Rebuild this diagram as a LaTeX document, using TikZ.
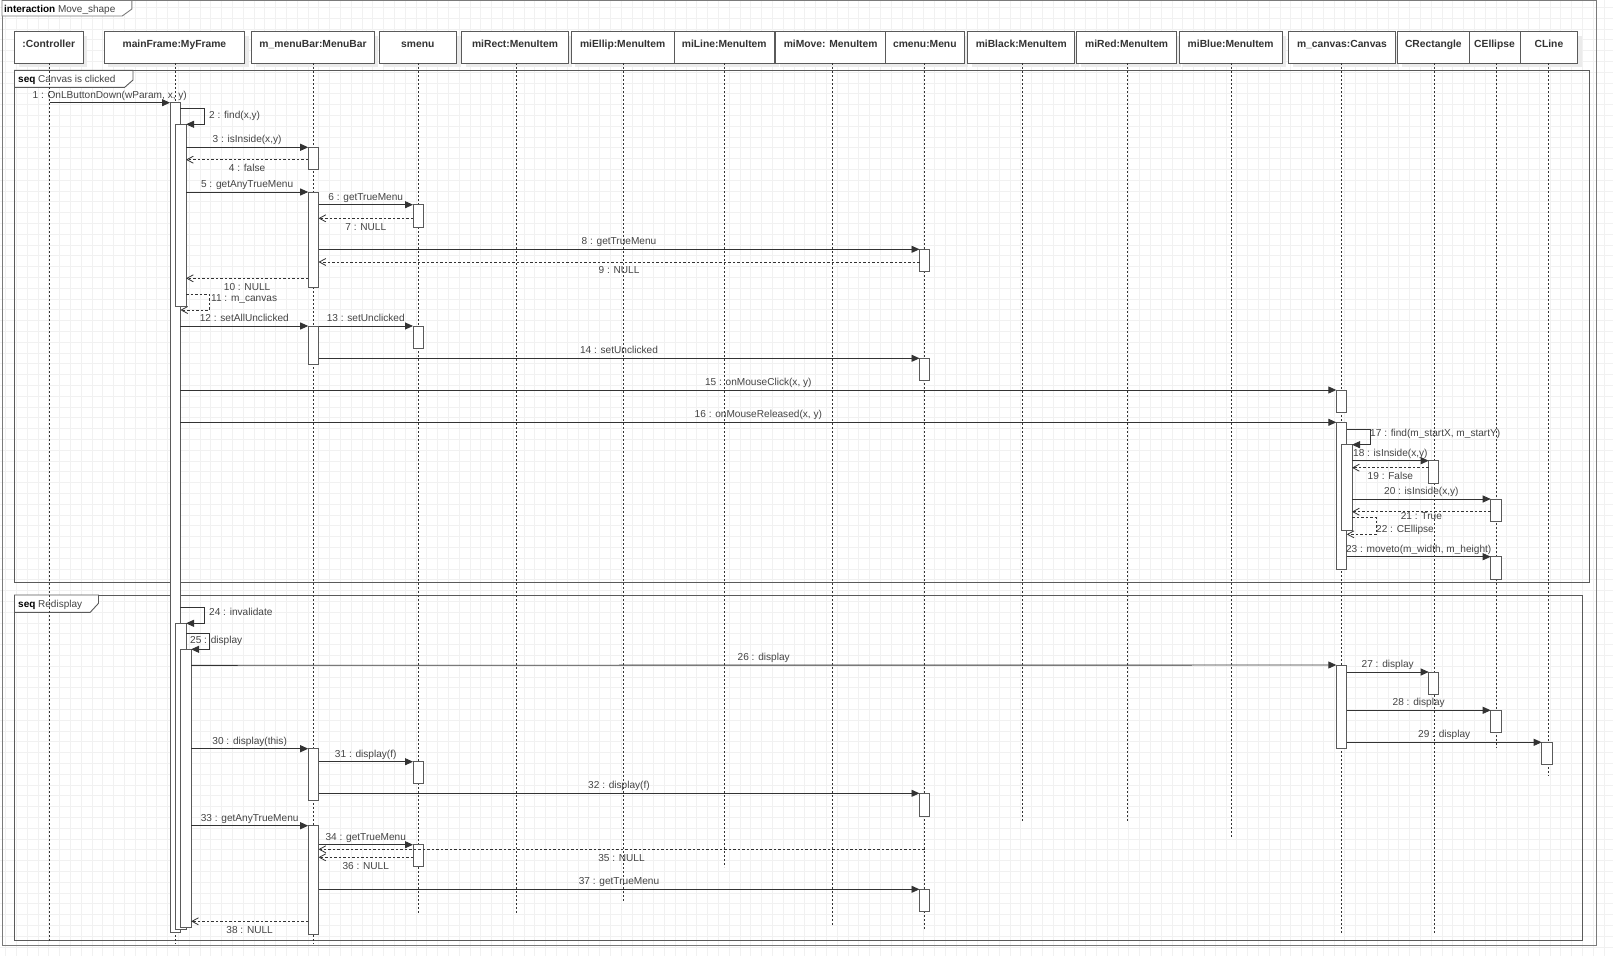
\documentclass[tikz,border=0pt]{standalone}
\usepackage{fontspec}
\setmainfont{Liberation Sans}
\usetikzlibrary{arrows.meta}

\definecolor{ink}{HTML}{333333}
\definecolor{txt}{HTML}{444444}
\definecolor{gridc}{HTML}{F1F1F1}
\definecolor{boxc}{HTML}{5A5A5A}
\definecolor{framec}{HTML}{7A7A7A}
\definecolor{shadec}{HTML}{EBEBEB}

% activation bar: name, left x, right x, top y, bottom y
\newcommand\actv[5]{%
  \node[actbar, anchor=north west, minimum width={(#3-#2)*1pt},
        minimum height={(#5-#4)*1pt}] (#1) at (#2,#4) {};}

% participant head: name, left x, right x, text, lifeline end y, lifeline x
\newcommand\headbox[6]{%
  \fill[shadec] ({#2+4},35.7) rectangle ({#3+4},67.3);
  \node[headrect, anchor=north west, minimum width={(#3-#2)*1pt},
        minimum height=31.6pt] (#1) at (#2,31.7) {};
  \node[headtxt] (#1-t) at ({(#2+#3)/2},47) {#4};
  \coordinate (#1-top) at (#6,63.3);
  \coordinate (#1-end) at (#6,#5);
  \draw[lifeline] (#1-top) -- (#1-end);}

\begin{document}
\begin{tikzpicture}[x=1pt,y=-1pt,
  gridline/.style={draw=gridc, line width=0.5pt},
  headrect/.style={draw=boxc, fill=white, line width=0.9pt, inner sep=0pt, outer sep=0pt},
  headtxt/.style={font=\fontsize{10.3}{12}\selectfont\bfseries, text=ink, anchor=base, inner sep=0pt},
  lifeline/.style={draw=ink, line width=0.8pt, dash pattern=on 2pt off 2pt},
  actbar/.style={draw=boxc, fill=white, line width=0.9pt, inner sep=0pt, outer sep=0pt},
  call/.style={draw=ink, line width=0.9pt, -{Triangle[length=8pt,width=7pt]}},
  ret/.style={draw=ink, line width=0.8pt, dash pattern=on 2.5pt off 2pt,
              -{Straight Barb[length=6.5pt,width=7pt,line width=0.8pt]}},
  lbl/.style={font=\fontsize{10.1}{11}\selectfont, text=txt, inner sep=0.5pt,
              text height=7pt, text depth=2pt},
  up/.style={lbl, midway, above=1.5pt},
  down/.style={lbl, midway, below=4pt},
  side/.style={lbl, anchor=west},
  outerframe/.style={draw=framec, line width=0.9pt},
  seqframe/.style={draw=boxc, line width=0.9pt},
  tabtxt/.style={font=\fontsize{10}{12}\selectfont, text=txt, inner sep=0pt, anchor=base west}]

\useasboundingbox (0,0) rectangle (1613,956);
\fill[white] (0,0) rectangle (1613,956);

% background grid
\foreach \i in {0,...,149}
  \draw[gridline] ({5.5+\i*10.8},0) -- ({5.5+\i*10.8},956);
\foreach \j in {0,...,88}
  \draw[gridline] (0,{7.3+\j*10.8}) -- (1613,{7.3+\j*10.8});

% interaction frame
\draw[outerframe] (2,0.5) rectangle (1596.5,945.7);
\draw[outerframe, fill=white] (2,0.5) -- (131.9,0.5) -- (131.9,9) -- (122.2,16) -- (2,16) -- cycle;
\node[tabtxt] (tabmain) at (4,12) {\textcolor{black}{\bfseries interaction} Move\_shape};

% combined fragments
\draw[seqframe] (14.5,70.3) rectangle (1589.5,582.3);
\draw[seqframe, fill=white] (14.5,70.3) -- (133,70.3) -- (133,80) -- (124.7,87.3) -- (14.5,87.3) -- cycle;
\node[tabtxt] (tabclick) at (18,82.3) {\textcolor{black}{\bfseries seq} Canvas is clicked};

\draw[seqframe] (14.5,595) rectangle (1582.7,940.7);
\draw[seqframe, fill=white] (14.5,595) -- (98.5,595) -- (98.5,603.3) -- (90.2,612.3) -- (14.5,612.3) -- cycle;
\node[tabtxt] (tabredraw) at (18,607) {\textcolor{black}{\bfseries seq} Redisplay};

% participants and lifelines
\headbox{ctl}{14.5}{83}{:Controller}{943}{49.5}
\headbox{mf}{104}{244.8}{mainFrame:MyFrame}{944}{175.3}
\headbox{mb}{251.7}{374.3}{m\_menuBar:MenuBar}{944}{313.4}
\headbox{sm}{379}{456.6}{smenu}{915}{418}
\headbox{mr}{461.8}{568.2}{miRect:MenuItem}{915}{516.5}
\headbox{me}{571.3}{674}{miEllip:MenuItem}{901}{623.7}
\headbox{ml}{674}{774.5}{miLine:MenuItem}{867.3}{724.6}
\headbox{mv}{775.9}{885.4}{miMove: MenuItem}{925.7}{832}
\headbox{cm}{885.4}{964.2}{cmenu:Menu}{930}{924.5}
\headbox{mk}{967.7}{1074.8}{miBlack:MenuItem}{823}{1022}
\headbox{md}{1076.7}{1176.6}{miRed:MenuItem}{823}{1127}
\headbox{mu}{1179.3}{1282}{miBlue:MenuItem}{837}{1231.7}
\headbox{cv}{1288.8}{1395.2}{m\_canvas:Canvas}{933}{1341.5}
\headbox{cr}{1397.7}{1469}{CRectangle}{933}{1434.5}
\headbox{ce}{1469}{1520}{CEllipse}{748.3}{1496.5}
\headbox{cl}{1520}{1577.8}{CLine}{776}{1548}

% activation bars
\actv{A1}{170}{180.4}{102.7}{932.3}
\actv{A2}{175.6}{186}{124.3}{306.7}
\actv{A4}{175.6}{186}{623.3}{929.7}
\actv{A5}{180.8}{191.1}{649.3}{927.3}

\actv{M1}{308.2}{318.5}{147.3}{169.7}
\actv{M2}{308.2}{318.5}{192}{287.7}
\actv{M3}{308.2}{318.5}{326}{364}
\actv{M4}{308.2}{318.5}{748.7}{800}
\actv{M5}{308.2}{318.5}{825.7}{934}

\actv{S1}{413}{423}{204.7}{227.3}
\actv{S2}{413}{423}{326}{348.3}
\actv{S3}{413}{423}{761.7}{783}
\actv{S4}{413}{423}{844.7}{866.7}

\actv{C1}{919.5}{929.5}{249.3}{271.7}
\actv{C2}{919.5}{929.5}{358.3}{380.7}
\actv{C3}{919.5}{929.5}{793.3}{816}
\actv{C4}{919.5}{929.5}{889.3}{911.7}

\actv{V1}{1336.3}{1346.7}{390}{412.3}
\actv{V2}{1336.3}{1346.7}{422.3}{569}
\actv{V3}{1341.7}{1352}{444.7}{530.7}
\actv{V4}{1336.3}{1346.7}{665}{748.7}

\actv{R1}{1428.7}{1438.7}{460.7}{483.3}
\actv{R2}{1428.7}{1438.7}{672}{694.3}

\actv{E1}{1490.7}{1501}{499}{521}
\actv{E2}{1490.7}{1501}{556.7}{579}
\actv{E3}{1490.7}{1501}{710.3}{732.3}

\actv{L1}{1541.7}{1552.3}{742.3}{764.7}

% --- seq: Canvas is clicked ---
\draw[call] (ctl-top |- 0,102.7) -- (A1.west |- 0,102.7) node[up] (m1) {1 : OnLButtonDown(wParam, x, y)};
\draw[call] (A1.east |- 0,108.3) -- ++(23.6,0) |- (A2.north east);
\node[side] (m2) at (208.5,116.3) {2 : find(x,y)};
\draw[call] (A2.east |- 0,147.3) -- (M1.north west) node[up] (m3) {3 : isInside(x,y)};
\draw[ret] (M1.west |- 0,159.7) -- (A2.east |- 0,159.7) node[down] (m4) {4 : false};
\draw[call] (A2.east |- 0,192) -- (M2.north west) node[up] (m5) {5 : getAnyTrueMenu};
\draw[call] (M2.east |- 0,204.7) -- (S1.north west) node[up] (m6) {6 : getTrueMenu};
\draw[ret] (S1.west |- 0,218.3) -- (M2.east |- 0,218.3) node[down] (m7) {7 : NULL};
\draw[call] (M2.east |- 0,249.3) -- (C1.north west) node[up] (m8) {8 : getTrueMenu};
\draw[ret] (C1.west |- 0,262) -- (M2.east |- 0,262) node[down] (m9) {9 : NULL};
\draw[ret] (M2.west |- 0,278.3) -- (A2.east |- 0,278.3) node[down] (m10) {10 : NULL};
\draw[ret] (A2.east |- 0,294) -- ++(23,0) |- (A1.east |- 0,310);
\node[side] (m11) at (210.5,298.7) {11 : m\_canvas};
\draw[call] (A1.east |- 0,326) -- (M3.north west) node[up] (m12) {12 : setAllUnclicked};
\draw[call] (M3.east |- 0,326) -- (S2.north west) node[up] (m13) {13 : setUnclicked};
\draw[call] (M3.east |- 0,358.3) -- (C2.north west) node[up] (m14) {14 : setUnclicked};
\draw[call] (A1.east |- 0,390) -- (V1.north west) node[up] (m15) {15 : onMouseClick(x, y)};
\draw[call] (A1.east |- 0,422.3) -- (V2.north west) node[up] (m16) {16 : onMouseReleased(x, y)};
\draw[call] (V2.east |- 0,429) -- ++(23.6,0) |- (V3.north east);
\node[side] (m17) at (1369.5,433.7) {17 : find(m\_startX, m\_startY)};
\draw[call] (V3.east |- 0,460.7) -- (R1.north west) node[up] (m18) {18 : isInside(x,y)};
\draw[ret] (R1.west |- 0,467.7) -- (V3.east |- 0,467.7) node[down] (m19) {19 : False};
\draw[call] (V3.east |- 0,499) -- (E1.north west) node[up] (m20) {20 : isInside(x,y)};
\draw[ret] (E1.west |- 0,511.7) -- (V3.east |- 0,511.7) node[lbl, midway, below=0pt] (m21) {21 : True};
\draw[ret] (V3.east |- 0,517.7) -- ++(24,0) |- (V2.east |- 0,534.3);
\node[side] (m22) at (1375.5,529.7) {22 : CEllipse};
\draw[call] (V2.east |- 0,556.7) -- (E2.north west) node[up] (m23) {23 : moveto(m\_width, m\_height)};

% --- seq: Redisplay ---
\draw[call] (A1.east |- 0,607.7) -- ++(23.6,0) |- (A4.north east);
\node[side] (m24) at (208.5,612.7) {24 : invalidate};
\draw[call] (A4.east |- 0,633.3) -- ++(23.7,0) |- (A5.north east);
\node[side] (m25) at (189.5,641) {25 : display};
\draw[call] (A5.east |- 0,665.3) -- (V4.north west) node[up] (m26) {26 : display};
\draw[call] (V4.east |- 0,672) -- (R2.north west) node[up] (m27) {27 : display};
\draw[call] (V4.east |- 0,710.3) -- (E3.north west) node[up] (m28) {28 : display};
\draw[call] (V4.east |- 0,742.3) -- (L1.north west) node[up] (m29) {29 : display};
\draw[call] (A5.east |- 0,748.7) -- (M4.north west) node[up] (m30) {30 : display(this)};
\draw[call] (M4.east |- 0,761.7) -- (S3.north west) node[up] (m31) {31 : display(f)};
\draw[call] (M4.east |- 0,793.3) -- (C3.north west) node[up] (m32) {32 : display(f)};
\draw[call] (A5.east |- 0,825.7) -- (M5.north west) node[up] (m33) {33 : getAnyTrueMenu};
\draw[call] (M5.east |- 0,844.7) -- (S4.north west) node[up] (m34) {34 : getTrueMenu};
\draw[ret] (cm-top |- 0,849.3) -- (M5.east |- 0,849.3) node[down] (m35) {35 : NULL};
\draw[ret] (S4.west |- 0,857.3) -- (M5.east |- 0,857.3) node[down] (m36) {36 : NULL};
\draw[call] (M5.east |- 0,889.3) -- (C4.north west) node[up] (m37) {37 : getTrueMenu};
\draw[ret] (M5.west |- 0,921.3) -- (A5.east |- 0,921.3) node[down] (m38) {38 : NULL};

\end{tikzpicture}
\end{document}
